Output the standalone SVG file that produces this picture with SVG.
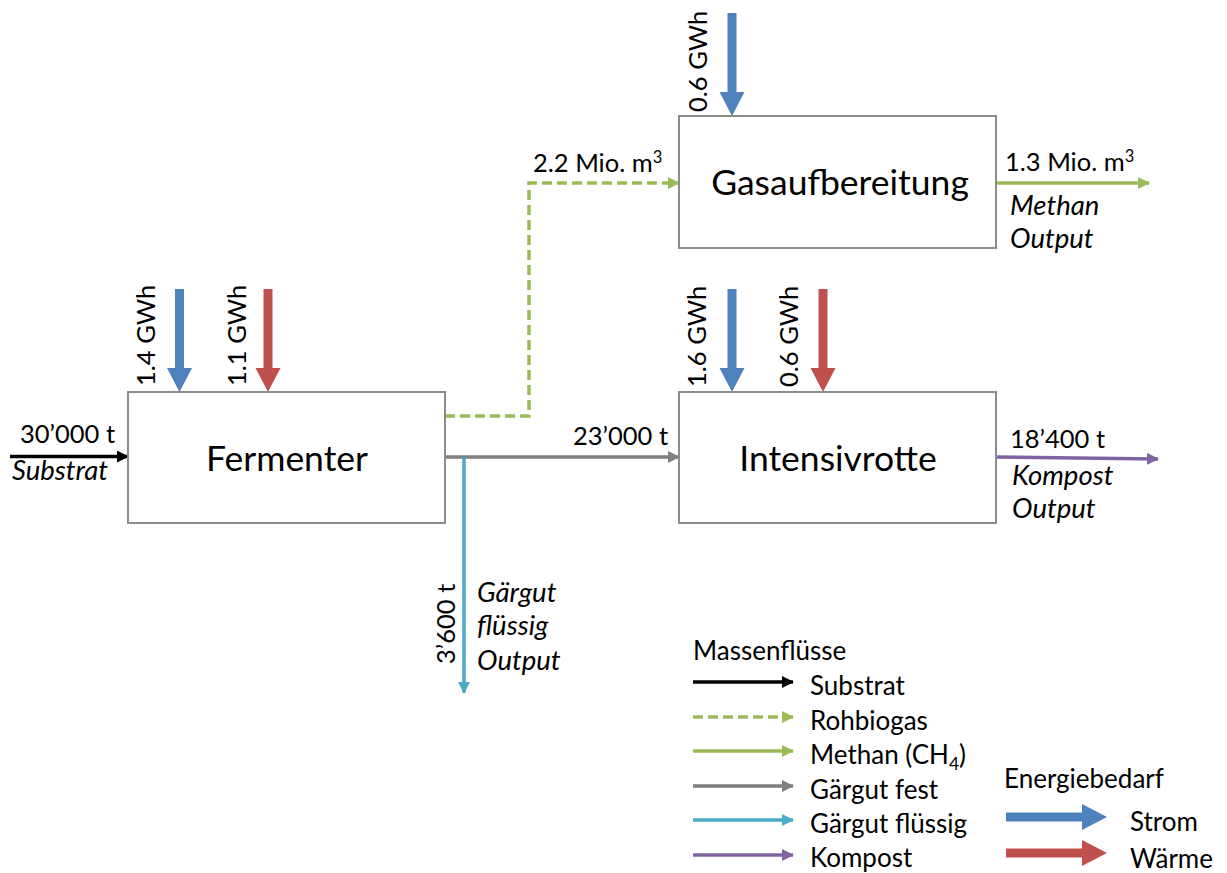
<svg xmlns="http://www.w3.org/2000/svg" width="1227" height="873" viewBox="0 0 1227 873">
<style>
.t{font-family:Lato,"Liberation Sans",sans-serif;font-size:25.5px;fill:#000}
.i{font-style:italic;font-size:27.5px}
.lg{font-size:26px}
.big{font-size:35.5px;text-anchor:middle}
.box{fill:#fff;stroke:#8c8c8c;stroke-width:2}
.ln{fill:none;stroke-width:3.5}
</style>
<defs>
<marker id="mk" viewBox="0 0 12 12" refX="11" refY="6" markerWidth="12" markerHeight="12" markerUnits="userSpaceOnUse" orient="auto"><path d="M0,0 L12,6 L0,12 z" fill="#000"/></marker>
<marker id="mg" viewBox="0 0 12 12" refX="11" refY="6" markerWidth="12" markerHeight="12" markerUnits="userSpaceOnUse" orient="auto"><path d="M0,0 L12,6 L0,12 z" fill="#9bbb59"/></marker>
<marker id="mgr" viewBox="0 0 12 12" refX="11" refY="6" markerWidth="12" markerHeight="12" markerUnits="userSpaceOnUse" orient="auto"><path d="M0,0 L12,6 L0,12 z" fill="#7f7f7f"/></marker>
<marker id="mc" viewBox="0 0 12 12" refX="11" refY="6" markerWidth="12" markerHeight="12" markerUnits="userSpaceOnUse" orient="auto"><path d="M0,0 L12,6 L0,12 z" fill="#4bacc6"/></marker>
<marker id="mp" viewBox="0 0 12 12" refX="11" refY="6" markerWidth="12" markerHeight="12" markerUnits="userSpaceOnUse" orient="auto"><path d="M0,0 L12,6 L0,12 z" fill="#8064a2"/></marker>
<path id="ed" d="M-4.5,-103 H4.5 V-24 H12.5 L0,0 L-12.5,-24 H-4.5 Z"/>
<path id="er" d="M-101,-4.5 V4.5 H-25 V13 L0,0 L-25,-13 V-4.5 Z"/>
</defs>

<g id="connectors">
<path class="ln" d="M10,456.5 H128" stroke="#000" marker-end="url(#mk)"/>
<path class="ln" d="M445,416 H529 V183 H679" stroke="#9bbb59" stroke-dasharray="10,5" marker-end="url(#mg)" stroke-width="3.2"/>
<path class="ln" d="M445,457 H679" stroke="#7f7f7f" marker-end="url(#mgr)"/>
<path class="ln" d="M464,457 V693" stroke="#4bacc6" marker-end="url(#mc)"/>
<path class="ln" d="M996,183 H1149" stroke="#9bbb59" marker-end="url(#mg)"/>
<path class="ln" d="M996,457 L1158,459" stroke="#8064a2" marker-end="url(#mp)"/>
<use href="#ed" x="179.5" y="392" fill="#4f81bd"/>
<use href="#ed" x="268" y="392" fill="#c0504d"/>
<use href="#ed" x="732" y="116" fill="#4f81bd"/>
<use href="#ed" x="732" y="392" fill="#4f81bd"/>
<use href="#ed" x="823" y="392" fill="#c0504d"/>
</g>

<g id="fermenter">
<rect class="box" x="128" y="392" width="317" height="131"/>
<text class="t big" x="287" y="471">Fermenter</text>
</g>
<g id="gasaufbereitung">
<rect class="box" x="679" y="116" width="317" height="132"/>
<text class="t big" x="840" y="195">Gasaufbereitung</text>
</g>
<g id="intensivrotte">
<rect class="box" x="679" y="392" width="317" height="131"/>
<text class="t big" x="838" y="471">Intensivrotte</text>
</g>

<g id="labels">
<text class="t" x="20" y="443">30’000 t</text>
<text class="t i" x="12" y="480">Substrat</text>
<text class="t" transform="translate(155,386) rotate(-90)">1.4 GWh</text>
<text class="t" transform="translate(246,386) rotate(-90)">1.1 GWh</text>
<text class="t" transform="translate(707,112) rotate(-90)">0.6 GWh</text>
<text class="t" transform="translate(706,387) rotate(-90)">1.6 GWh</text>
<text class="t" transform="translate(798,387) rotate(-90)">0.6 GWh</text>
<text class="t" x="533" y="172">2.2 Mio. m<tspan dy="-9" font-size="16.5">3</tspan></text>
<text class="t" x="1005" y="171">1.3 Mio. m<tspan dy="-9" font-size="16.5">3</tspan></text>
<text class="t i" x="1010" y="215">Methan</text>
<text class="t i" x="1010" y="248">Output</text>
<text class="t" x="573" y="445">23’000 t</text>
<text class="t" x="1010" y="448">18’400 t</text>
<text class="t i" x="1012" y="485">Kompost</text>
<text class="t i" x="1012" y="518">Output</text>
<text class="t" transform="translate(455,664) rotate(-90)">3’600 t</text>
<text class="t i" x="477" y="602">Gärgut</text>
<text class="t i" x="477" y="635">flüssig</text>
<text class="t i" x="477" y="670">Output</text>
</g>

<g id="legend">
<text class="t lg" x="693" y="660">Massenflüsse</text>
<path class="ln" d="M693,682 H793" stroke="#000" marker-end="url(#mk)"/>
<path class="ln" d="M693,717 H793" stroke="#9bbb59" stroke-dasharray="10,5" marker-end="url(#mg)"/>
<path class="ln" d="M693,751 H793" stroke="#9bbb59" marker-end="url(#mg)"/>
<path class="ln" d="M693,786 H793" stroke="#7f7f7f" marker-end="url(#mgr)"/>
<path class="ln" d="M693,820 H793" stroke="#4bacc6" marker-end="url(#mc)"/>
<path class="ln" d="M693,855 H793" stroke="#8064a2" marker-end="url(#mp)"/>
<text class="t lg" x="810" y="695">Substrat</text>
<text class="t lg" x="810" y="730">Rohbiogas</text>
<text class="t lg" x="810" y="764">Methan (CH<tspan dy="6" font-size="17.5">4</tspan><tspan dy="-6">)</tspan></text>
<text class="t lg" x="810" y="799">Gärgut fest</text>
<text class="t lg" x="810" y="833">Gärgut flüssig</text>
<text class="t lg" x="810" y="867">Kompost</text>
<text class="t lg" x="1004" y="788">Energiebedarf</text>
<use href="#er" x="1107" y="817" fill="#4f81bd"/>
<use href="#er" x="1107" y="853" fill="#c0504d"/>
<text class="t lg" x="1130" y="831">Strom</text>
<text class="t lg" x="1130" y="868">Wärme</text>
</g>
</svg>
